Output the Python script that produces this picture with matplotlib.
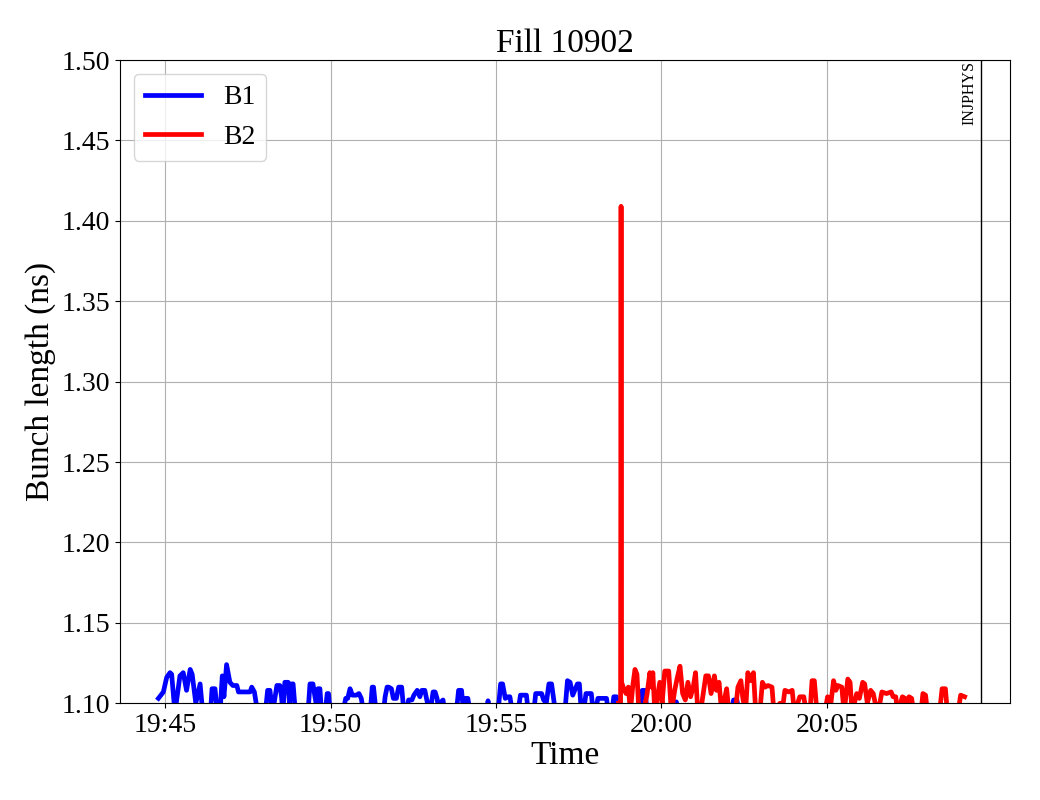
import matplotlib
matplotlib.use("Agg")
import numpy as np
import pandas as pd
import matplotlib.pyplot as plt
import matplotlib.dates as mdates

plt.rcParams["font.family"] = ["Liberation Serif", "DejaVu Serif"]

# minutes after 19:00, bunch length in ns
b1_t = [44.80, 44.95, 45.05, 45.15, 45.20, 45.30, 45.45, 45.55, 45.65, 45.76, 45.82, 45.93,
        46.06, 46.14, 46.38, 46.42, 46.51, 46.58, 46.68, 46.73, 46.78, 46.86, 46.96, 47.05,
        47.17, 47.22, 47.57, 47.62, 47.70, 47.80, 48.04, 48.10, 48.17, 48.25, 48.38, 48.47,
        48.52, 48.56, 48.62, 48.72, 48.76, 48.82, 48.87, 48.94, 49.32, 49.38, 49.47, 49.53,
        49.58, 49.62, 49.68, 49.73, 49.86, 49.90, 49.94, 49.99, 50.40, 50.46, 50.52, 50.59,
        50.66, 50.78, 50.86, 50.93, 51.00, 51.20, 51.26, 51.30, 51.38, 51.60, 51.65, 51.71,
        51.76, 51.84, 51.90, 51.99, 52.06, 52.15, 52.22, 52.30, 52.36, 52.46, 52.52, 52.62,
        52.70, 52.76, 52.85, 52.92, 52.98, 53.05, 53.10, 53.16, 53.22, 53.28, 53.35, 53.40,
        53.45, 53.80, 53.87, 53.96, 54.02, 54.08, 54.15, 54.22, 54.70, 54.76, 54.82, 55.06,
        55.14, 55.20, 55.28, 55.36, 55.42, 55.50, 55.66, 55.74, 55.92, 55.98, 56.14, 56.20,
        56.38, 56.44, 56.52, 56.60, 56.68, 56.74, 56.80, 57.08, 57.16, 57.24, 57.32, 57.46,
        57.52, 57.58, 57.66, 57.72, 57.88, 57.94, 58.02, 58.08, 58.34, 58.40, 58.50, 58.56,
        58.64, 58.70, 59.34, 59.42, 59.50, 59.57, 60.25, 60.32, 60.45, 60.52, 62.10, 62.18,
        62.28, 62.34]
b1_v = [1.103, 1.107, 1.116, 1.119, 1.118, 1.094, 1.117, 1.119, 1.108, 1.121, 1.118, 1.100,
        1.112, 1.094, 1.096, 1.109, 1.109, 1.094, 1.100, 1.117, 1.104, 1.124, 1.113, 1.111,
        1.111, 1.107, 1.107, 1.110, 1.107, 1.094, 1.096, 1.108, 1.108, 1.094, 1.111, 1.111,
        1.104, 1.094, 1.113, 1.113, 1.100, 1.112, 1.112, 1.094, 1.094, 1.112, 1.112, 1.104,
        1.098, 1.109, 1.109, 1.094, 1.098, 1.106, 1.106, 1.094, 1.097, 1.103, 1.103, 1.109,
        1.105, 1.105, 1.106, 1.103, 1.094, 1.094, 1.110, 1.110, 1.094, 1.094, 1.104, 1.110,
        1.110, 1.109, 1.103, 1.103, 1.110, 1.110, 1.094, 1.096, 1.102, 1.102, 1.105, 1.108,
        1.104, 1.108, 1.108, 1.101, 1.094, 1.100, 1.107, 1.107, 1.103, 1.094, 1.101, 1.102,
        1.094, 1.094, 1.108, 1.108, 1.094, 1.103, 1.103, 1.094, 1.094, 1.1015, 1.094, 1.094,
        1.112, 1.112, 1.103, 1.104, 1.104, 1.094, 1.094, 1.105, 1.105, 1.094, 1.094, 1.106,
        1.106, 1.102, 1.100, 1.112, 1.112, 1.103, 1.094, 1.094, 1.114, 1.113, 1.105, 1.112,
        1.112, 1.094, 1.097, 1.106, 1.106, 1.094, 1.097, 1.103, 1.103, 1.094, 1.094, 1.104,
        1.104, 1.094, 1.094, 1.108, 1.108, 1.094, 1.094, 1.1008, 1.1008, 1.094, 1.094, 1.102,
        1.102, 1.094]

b2_t = [58.70, 58.765, 58.78, 58.795, 58.86, 58.93, 59.00, 59.06, 59.14, 59.20, 59.26, 59.32,
        59.48, 59.56, 59.65, 59.70, 59.74, 59.80, 59.95, 60.02, 60.10, 60.22, 60.30, 60.40,
        60.48, 60.56, 60.64, 60.72, 60.80, 60.88, 60.96, 61.03, 61.10, 61.22, 61.34, 61.42,
        61.50, 61.60, 61.66, 61.74, 61.82, 61.92, 61.97, 62.04, 62.24, 62.31, 62.40, 62.46,
        62.54, 62.61, 62.70, 62.78, 62.85, 62.98, 63.05, 63.13, 63.22, 63.34, 63.40, 63.58,
        63.64, 63.73, 63.85, 63.95, 64.02, 64.18, 64.30, 64.38, 64.50, 64.55, 64.62, 64.70,
        64.95, 65.02, 65.12, 65.20, 65.27, 65.33, 65.45, 65.52, 65.63, 65.70, 65.76, 65.90,
        65.98, 66.08, 66.14, 66.22, 66.32, 66.40, 66.48, 66.60, 66.66, 66.80, 66.94, 67.00,
        67.08, 67.14, 67.28, 67.36, 67.42, 67.48, 67.56, 67.62, 67.84, 67.90, 67.98, 68.04,
        68.40, 68.48, 68.58, 68.64, 68.96, 69.04, 69.16]
b2_v = [1.100, 1.100, 1.409, 1.113, 1.109, 1.106, 1.110, 1.095, 1.112, 1.121, 1.118, 1.094,
        1.097, 1.105, 1.119, 1.110, 1.119, 1.094, 1.113, 1.100, 1.120, 1.120, 1.094, 1.108,
        1.116, 1.123, 1.106, 1.102, 1.113, 1.104, 1.110, 1.119, 1.094, 1.100, 1.117, 1.117,
        1.106, 1.117, 1.108, 1.113, 1.094, 1.104, 1.109, 1.094, 1.096, 1.110, 1.114, 1.103,
        1.094, 1.119, 1.114, 1.119, 1.094, 1.096, 1.113, 1.110, 1.111, 1.110, 1.094, 1.100,
        1.094, 1.108, 1.107, 1.108, 1.094, 1.104, 1.104, 1.094, 1.098, 1.114, 1.114, 1.094,
        1.096, 1.104, 1.100, 1.114, 1.108, 1.111, 1.110, 1.094, 1.115, 1.113, 1.094, 1.106,
        1.103, 1.113, 1.112, 1.100, 1.108, 1.106, 1.098, 1.100, 1.107, 1.106, 1.107, 1.104,
        1.104, 1.094, 1.104, 1.103, 1.094, 1.104, 1.103, 1.094, 1.094, 1.106, 1.105, 1.094,
        1.094, 1.109, 1.109, 1.094, 1.094, 1.105, 1.104]

tick_mins = [45, 50, 55, 60, 65]
mode_t = 69.67
mode_label = "INJPHYS"
fill = 10902

base = pd.Timestamp("2025-07-21 19:00:00")
def to_time(mins):
	return base + pd.to_timedelta(np.array(mins), unit="m")

fig = plt.figure(figsize=(10.4, 8), dpi=100)
ax = fig.add_axes([0.1154, 0.121, 0.8557, 0.804])

ax.plot(to_time(b1_t), b1_v, color="blue", lw=3.4, label="B1")
ax.plot(to_time(b2_t), b2_v, color="red", lw=3.4, label="B2")

ax.axvline(to_time([mode_t])[0], color="black", lw=1)
ax.text(to_time([mode_t - 0.12])[0], 1.4995, mode_label, rotation=90,
	ha="right", va="top", fontsize=11.5)

ax.set_ylim(1.10, 1.50)
ax.set_yticks(np.arange(1.10, 1.501, 0.05))
ax.set_xlim(to_time([43.64])[0], to_time([70.53])[0])
ax.set_xticks(to_time(tick_mins))
ax.xaxis.set_major_formatter(mdates.DateFormatter("%H:%M"))
ax.grid(True, color="#b0b0b0", lw=0.8)
ax.tick_params(labelsize=20)

ax.set_xlabel("Time", fontsize=24, labelpad=2)
ax.set_ylabel("Bunch length (ns)", fontsize=24)
ax.set_title("Fill %d" % fill, fontsize=24)
ax.legend(loc="upper left", fontsize=20, handlelength=2.0)

plt.savefig("out.png", dpi=100)
